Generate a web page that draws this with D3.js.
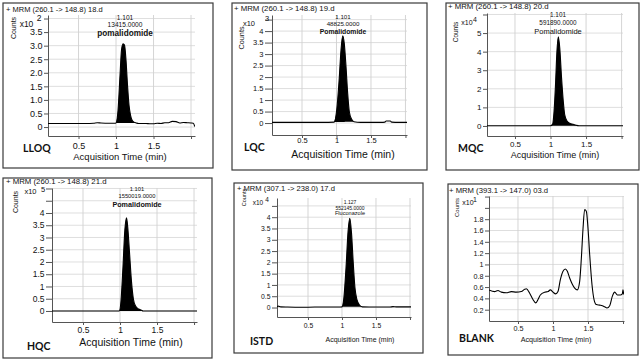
<!DOCTYPE html>
<html><head><meta charset="utf-8">
<script src="https://cdn.jsdelivr.net/npm/d3@7"></script>
<style>body{margin:0;background:#fff}svg{display:block}</style>
</head><body>
<svg id="c" width="640" height="360"></svg>
<script>
// ---------------- DATA ----------------
const lloqTime   = [0.093,0.15,0.2,0.3,0.4,0.5,0.6,0.7,0.75,0.8,0.9,0.98,1.0,1.027,1.053,1.073,1.093,1.113,1.133,1.153,1.173,1.193,1.213,1.24,1.27,1.3,1.4,1.45,1.5,1.55,1.6,1.65,1.7,1.75,1.8,1.85,1.9,1.95,2.0,2.03,2.05];
const lloqCounts = [0.13,0.13,0.13,0.13,0.13,0.13,0.13,0.14,0.16,0.15,0.14,0.14,0.15,0.63,1.9,2.84,3.07,3.02,2.47,1.55,0.81,0.44,0.26,0.18,0.15,0.13,0.13,0.12,0.12,0.14,0.13,0.16,0.16,0.21,0.2,0.15,0.17,0.16,0.15,0.14,0.02];
const lloqPeak   = [1.0,1.27];

const lqcTime   = [0.065,0.2,0.4,0.6,0.8,0.964,1.003,1.041,1.065,1.09,1.113,1.138,1.162,1.186,1.22,1.254,1.35,1.5,1.65,1.7,1.72,1.78,1.8,1.9,2.022];
const lqcCounts = [0.03,0.03,0.03,0.03,0.03,0.04,0.57,2.0,3.17,3.8,3.46,2.45,1.29,0.49,0.16,0.06,0.03,0.03,0.03,0.04,0.09,0.09,0.04,0.03,0.03];
const lqcPeak   = [0.964,1.254];

const mqcTime   = [0.106,0.3,0.5,0.7,0.9,1.0,1.03,1.05,1.07,1.09,1.11,1.13,1.155,1.18,1.2,1.235,1.27,1.32,1.36,1.4,1.6,1.8,2.02];
const mqcCounts = [0.01,0.01,0.01,0.01,0.01,0.01,0.1,0.8,2.2,4.0,4.8,4.2,2.6,1.3,0.6,0.25,0.15,0.09,0.04,0.01,0.01,0.01,0.01];
const mqcPeak   = [1.0,1.4];

const hqcTime   = [0.081,0.3,0.5,0.7,0.9,0.99,1.01,1.04,1.065,1.088,1.105,1.13,1.155,1.18,1.21,1.25,1.29,1.31,1.5,1.7,1.9,2.04];
const hqcCounts = [0.0,0.0,0.0,0.0,0.0,0.0,0.3,1.8,3.3,3.8,3.4,2.3,1.2,0.5,0.2,0.08,0.03,0.0,0.0,0.0,0.0,0.0];
const hqcPeak   = [0.99,1.31];

const istdTime   = [0.044,0.06,0.1,0.2,0.4,0.6,0.8,0.95,1.0,1.03,1.06,1.09,1.115,1.14,1.165,1.19,1.22,1.26,1.3,1.5,1.7,1.75,1.8,2.015];
const istdCounts = [0.03,0.06,0.03,0.02,0.01,0.02,0.02,0.02,0.03,0.5,1.8,3.4,3.95,3.3,2.0,0.9,0.35,0.1,0.03,0.02,0.02,0.04,0.03,0.03];
const istdPeak   = [1.0,1.3];

const blankTime   = [0.086,0.167,0.214,0.262,0.333,0.405,0.476,0.548,0.595,0.619,0.667,0.714,0.752,0.786,0.819,0.881,0.929,0.962,1.0,1.038,1.071,1.105,1.143,1.176,1.205,1.238,1.276,1.31,1.348,1.381,1.405,1.429,1.452,1.476,1.5,1.524,1.557,1.586,1.619,1.667,1.705,1.738,1.771,1.81,1.848,1.881,1.919,1.962,1.99,2.0,2.01];
const blankCounts = [0.55,0.52,0.54,0.51,0.5,0.52,0.51,0.52,0.56,0.57,0.49,0.38,0.32,0.38,0.46,0.51,0.52,0.55,0.51,0.48,0.52,0.73,0.88,0.92,0.88,0.76,0.65,0.58,0.55,0.7,1.11,1.64,1.97,1.94,1.64,1.17,0.64,0.38,0.29,0.28,0.27,0.25,0.23,0.27,0.44,0.51,0.46,0.46,0.48,0.55,0.47];
const blankPeak   = null;

const panelNames = ["LLOQ","LQC","MQC","HQC","ISTD","BLANK"];
const titles = ["+ MRM (260.1 -> 148.8) 18.d","+ MRM (260.1 -> 148.8) 19.d","+ MRM (260.1 -> 148.8) 20.d",
                "+ MRM (260.1 -> 148.8) 21.d","+ MRM (307.1 -> 238.0) 17.d","+ MRM (393.1 -> 147.0) 03.d"];
const exponents = ["2","3","4","5","4","1"];
const peakRT    = ["1.101","1.101","1.101","1.101","1.127",null];
const peakArea  = ["13415.0000","48825.0000","591890.0000","1550019.0000","552145.0000",null];
const compounds = ["pomalidomide","Pomalidomide","Pomalidomide","Pomalidomide","Fluconazole",null];
const xTickValues = [0.5,1,1.5,2];
const xTickLabels = ["0.5","1","1.5",""];
const yTickValues = [
  [0,0.5,1,1.5,2,2.5,3,3.5,4],
  [0,0.5,1,1.5,2,2.5,3,3.5,4,4.5],
  [0,1,2,3,4,5,6],
  [0,0.5,1,1.5,2,2.5,3,3.5,4,4.5,5],
  [0,0.5,1,1.5,2,2.5,3,3.5,4,4.5],
  [0.2,0.4,0.6,0.8,1,1.2,1.4,1.6,1.8,2,2.2]
];
const yTickLabels = [
  ["0","0.5","1.0","1.5","2.0","2.5","3.0","3.5",""],
  ["0","0.5","1","1.5","2","2.5","3","3.5","4",""],
  ["0","1","2","3","4","5",""],
  ["0","0.5","1","1.5","2","2.5","3","3.5","4","",""],
  ["0","0.5","1","1.5","2","2.5","3","3.5","4",""],
  ["0.2","0.4","0.6","0.8","1","1.2","1.4","1.6","1.8","",""]
];
const series = [
  {t:lloqTime,c:lloqCounts,p:lloqPeak},
  {t:lqcTime,c:lqcCounts,p:lqcPeak},
  {t:mqcTime,c:mqcCounts,p:mqcPeak},
  {t:hqcTime,c:hqcCounts,p:hqcPeak},
  {t:istdTime,c:istdCounts,p:istdPeak},
  {t:blankTime,c:blankCounts,p:blankPeak}
];

// ---------------- LAYOUT ----------------
const layout = [
 {box:[3,3,213,168], plot:[48,15,195,136], xDom:[0.093,2.053], yDom:[-0.33,4.13], title:[6,9], counts:[13,28], x10:[26.5,23.5], exp:[39,17.5],
  annX:125, annY:[17,24.5,33], xlab:[120,156], xtickY:146, label:[23,148], tick:4,
  fs:{title:7.5,tick:9,xlab:9.5,counts:7,x10:8.5,ann:6.6,name:8.2,nameW:700,label:10.5}},
 {box:[232,3,427,170], plot:[272,15,407,135], xDom:[0.065,2.022], yDom:[-0.52,4.7], title:[234,8.5], counts:[241,38], x10:[249,23.5], exp:[267,18],
  annX:343, annY:[16.8,23.5,31.5], xlab:[343,154], xtickY:140, label:[244,147], tick:7,
  fs:{title:7.8,tick:7.5,xlab:10.5,counts:7.3,x10:7.5,ann:6.2,name:6.8,nameW:700,label:10.5}},
 {box:[446,3,639,170], plot:[487,13,623,136], xDom:[0.106,2.02], yDom:[-0.54,6.08], title:[448,6.5], counts:[455,32], x10:[467,22], exp:[475,19.5],
  annX:558, annY:[14.8,22,31.5], xlab:[555,155], xtickY:144, label:[458,148], tick:4,
  fs:{title:7.8,tick:8,xlab:9,counts:6.5,x10:7,ann:6.4,name:7.5,nameW:400,label:10.5}},
 {box:[3,178,212,358], plot:[52,188,197,322], xDom:[0.081,2.04], yDom:[-0.45,5.02], title:[6,181.5], counts:[15,202], x10:[30.5,191.5], exp:[43,189.5],
  annX:137, annY:[189,196,204], xlab:[131,342], xtickY:330, label:[27,346], tick:6,
  fs:{title:7.8,tick:8.5,xlab:10.5,counts:7,x10:7.5,ann:5.8,name:7.2,nameW:700,label:10.5}},
 {box:[234,183,423,353], plot:[277,198,411,317], xDom:[0.044,2.015], yDom:[-0.42,4.85], title:[237,188.5], counts:[244,197.5], x10:[258,202.5], exp:[267,199.5],
  annX:350, annY:[202,207.5,213], xlab:[360,339], xtickY:326, label:[250,341], tick:5,
  fs:{title:7.6,tick:6.8,xlab:7,counts:5.5,x10:6.5,ann:5,name:5.6,nameW:400,label:10.5}},
 {box:[448,184,638,355], plot:[489,196,624,321], xDom:[0.086,2.014], yDom:[0,2.21], title:[449,190], counts:[457,207.5], x10:[468,202.5], exp:[475,199.5],
  annX:0, annY:[], xlab:[556,339], xtickY:328, label:[459,338], tick:4,
  fs:{title:7.7,tick:7.2,xlab:7.2,counts:6,x10:7,ann:6,name:6,nameW:400,label:10.5}}
];

const FONT = "'Liberation Sans', Arial, sans-serif";
const svg = d3.select("#c");

layout.forEach((L, i) => {
  const g = svg.append("g");
  const [bx0,by0,bx1,by1] = L.box;
  const [pl,pt,pr,pb] = L.plot;
  g.append("rect").attr("x",bx0).attr("y",by0).attr("width",bx1-bx0).attr("height",by1-by0)
    .attr("fill","#fff").attr("stroke","#3a3a3a").attr("stroke-width",1.2);

  const x = d3.scaleLinear().domain(L.xDom).range([pl,pr]);
  const y = d3.scaleLinear().domain(L.yDom).range([pb,pt]);

  // grid
  g.append("g").selectAll("line").data(yTickValues[i]).join("line")
    .attr("x1",pl).attr("x2",pr).attr("y1",d=>y(d)).attr("y2",d=>y(d))
    .attr("stroke","#d6d6d6").attr("stroke-width",0.8);
  g.append("g").selectAll("line").data(xTickValues).join("line")
    .attr("x1",d=>x(d)).attr("x2",d=>x(d)).attr("y1",pt).attr("y2",pb)
    .attr("stroke","#d0d0d0").attr("stroke-width",0.9);

  // axes
  const ay = g.append("g").attr("transform",`translate(${pl},0)`)
    .call(d3.axisLeft(y).tickValues(yTickValues[i]).tickFormat((d,k)=>yTickLabels[i][k]).tickSize(L.tick).tickSizeOuter(0).tickPadding(1.5));
  const xPad = L.xtickY - pb - 0.35*L.fs.tick - 3;
  const ax = g.append("g").attr("transform",`translate(0,${pb})`)
    .call(d3.axisBottom(x).tickValues(xTickValues).tickFormat((d,k)=>xTickLabels[k]).tickSize(3).tickSizeOuter(0).tickPadding(xPad));
  [ay,ax].forEach(a=>{
    a.attr("font-family",FONT).attr("font-size",L.fs.tick);
    a.select(".domain").attr("stroke","#555").attr("stroke-width",1);
    a.selectAll(".tick line").attr("stroke","#555");
    a.selectAll("text").attr("fill","#111");
  });

  // clip
  const cid = "clip"+i;
  g.append("clipPath").attr("id",cid).append("rect").attr("x",pl).attr("y",pt-2).attr("width",pr-pl).attr("height",pb-pt+2);
  const S = series[i];
  const pts = S.t.map((t,k)=>({t, c:S.c[k]}));
  const plotG = g.append("g").attr("clip-path",`url(#${cid})`);
  if (S.p) {
    const inside = pts.filter(d=>d.t>=S.p[0]-1e-9 && d.t<=S.p[1]+1e-9);
    const a = inside[0], b = inside[inside.length-1];
    const base = t => a.c + (b.c-a.c)*(t-a.t)/(b.t-a.t);
    plotG.append("path").datum(inside)
      .attr("d", d3.area().x(d=>x(d.t)).y0(d=>y(base(d.t))).y1(d=>y(d.c)).curve(d3.curveMonotoneX))
      .attr("fill","#000");
  }
  plotG.append("path").datum(pts)
    .attr("d", d3.line().x(d=>x(d.t)).y(d=>y(d.c)).curve(d3.curveMonotoneX))
    .attr("fill","none").attr("stroke","#000").attr("stroke-width",1.1);

  // texts
  const txt = (xx,yy,s,fs,opts={}) => g.append("text").attr("x",xx).attr("y",yy).text(s)
    .attr("font-family",opts.family||FONT).attr("font-size",fs).attr("font-weight",opts.w||400)
    .attr("text-anchor",opts.anchor||"start").attr("dominant-baseline","central").attr("fill","#111")
    .attr("transform",opts.rot?`rotate(-90,${xx},${yy})`:null);
  txt(L.title[0],L.title[1],titles[i],L.fs.title);
  txt(L.counts[0],L.counts[1],"Counts",L.fs.counts,{anchor:"middle",rot:true});
  txt(L.x10[0],L.x10[1],"x10",L.fs.x10,{anchor:"middle"});
  txt(L.exp[0],L.exp[1],exponents[i],L.fs.x10,{anchor:"middle"});
  txt(L.xlab[0],L.xlab[1],"Acquisition Time (min)",L.fs.xlab,{anchor:"middle"});
  txt(L.label[0],L.label[1],panelNames[i],L.fs.label,{w:700,family:"Lato, 'Noto Sans', sans-serif"});
  if (peakRT[i]) {
    txt(L.annX,L.annY[0],peakRT[i],L.fs.ann,{anchor:"middle"});
    txt(L.annX,L.annY[1],peakArea[i],L.fs.ann,{anchor:"middle"});
    txt(L.annX,L.annY[2],compounds[i],L.fs.name,{anchor:"middle",w:L.fs.nameW});
  }
});
</script>
</body></html>
